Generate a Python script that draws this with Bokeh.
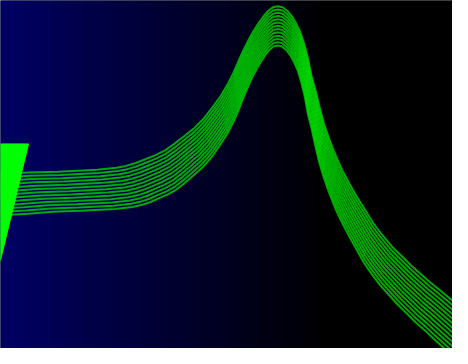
import numpy as np
from bokeh.plotting import figure
from bokeh.models import Range1d
from bokeh.embed import file_html
from bokeh.resources import INLINE

# Base curve (top trace), x and y in plot units
base_x = [-20, 0, 28, 60, 100, 120, 130, 140, 150, 160, 170, 180, 190, 200, 210,
          220, 228, 235, 241, 247, 252, 257, 262, 267, 272, 277, 282, 287, 292, 297,
          302, 306, 310, 314, 318, 322, 326, 330, 335, 340, 345, 350, 355, 362, 370,
          378, 386, 395, 405, 415, 425, 435, 445, 455, 468, 480, 495]
base_y = [181, 182, 184, 185, 187, 189, 191, 194, 198, 202, 207, 214, 222, 230, 240,
          253, 264, 276, 288, 302, 313, 323, 332, 340, 347, 353, 357, 358, 357, 353,
          347, 340, 332, 320, 305, 285, 271, 254, 235, 220, 207, 195, 184, 171, 157,
          144, 131, 119, 107, 97, 87, 78, 69, 61, 50, 40, 28]
peak_x = 287

# Each trace: vertical offset below the top one, and its relative width
trace_offsets = [0, 3.4, 6.8, 10.2, 13.7, 17.1, 20.5, 23.9, 27.3, 30.8, 34.2, 37.6, 41.0]
trace_widths = [1.0, 0.992, 0.983, 0.975, 0.967, 0.958, 0.95, 0.942, 0.933, 0.925,
                0.917, 0.908, 0.9]

# Solid marker block at the left edge
block_x = [0, 29, 0]
block_y = [214, 214, 92]

W, H = 452, 348
p = figure(width=W, height=H, output_backend="svg", toolbar_location=None,
           x_range=Range1d(0, 468), y_range=Range1d(0, 364),
           min_border=0, outline_line_color=None)
p.axis.visible = False
p.grid.visible = False
p.background_fill_color = "black"
p.border_fill_color = "black"

# horizontal gradient background (navy -> black)
ncol = 478
cols = np.arange(ncol) - 5
blue = np.clip(100 * (1 - cols / 340.0), 0, 255).astype(np.uint8)
img = np.zeros((1, ncol), dtype=np.uint32)
view = img.view(dtype=np.uint8).reshape((1, ncol, 4))
view[0, :, 2] = blue
view[0, :, 3] = 255
p.image_rgba(image=[img], x=-5, y=-5, dw=478, dh=374)

xs = [[peak_x + (x - peak_x) * s for x in base_x] for s in trace_widths]
ys = [[v - d for v in base_y] for d in trace_offsets]
p.multi_line(xs=xs, ys=ys, line_color="#00e000", line_alpha=0.75, line_width=2)

p.patch(block_x, block_y, fill_color="#00ff00", line_color="#00ff00", line_width=1)

open("out.html", "w").write(file_html(p, INLINE))
